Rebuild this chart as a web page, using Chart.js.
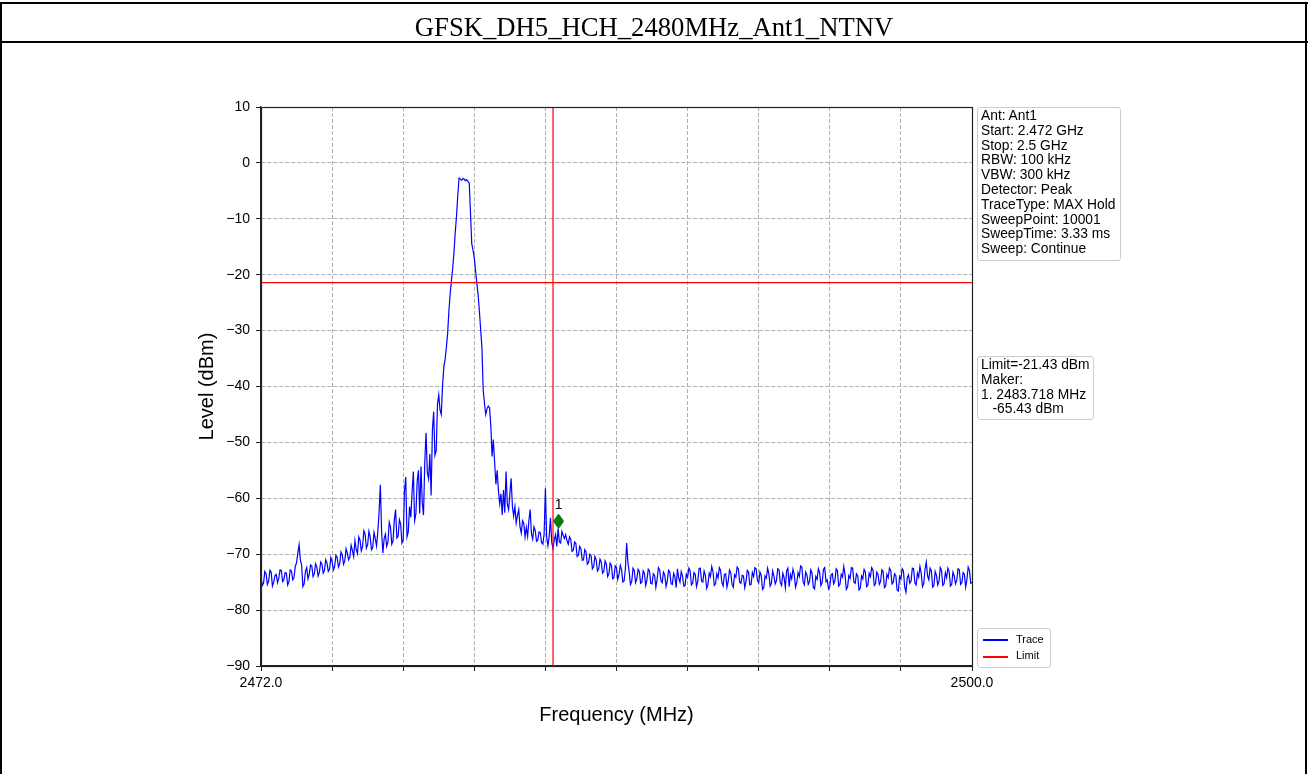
<!DOCTYPE html>
<html>
<head>
<meta charset="utf-8">
<script src="https://cdn.jsdelivr.net/npm/chart.js@4.4.0/dist/chart.umd.min.js"></script>
<style>
  html, body { margin: 0; padding: 0; background: #fff; }
  body { width: 1308px; height: 774px; position: relative; overflow: hidden; font-family: "Liberation Sans", Arial, sans-serif; }
  #chart { position: absolute; left: 0; top: 0; }
  .rule { position: absolute; background: #000; }
  #title { position: absolute; left: 0; top: 12px; width: 1308px; text-align: center; font-family: "Liberation Serif", "Times New Roman", serif; font-size: 20pt; line-height: 30px; color: #000; }
  .box { position: absolute; background: rgba(255,255,255,0.8); border: 1px solid #cccccc; border-radius: 3px; font-size: 13.8px; line-height: 14.8px; color: #000; white-space: pre; padding: 0 3px; box-sizing: border-box; }
  .leg { position: absolute; font-size: 11px; line-height: 13px; }
  .legline { position: absolute; height: 1.5px; width: 25px; }
</style>
</head>
<body>
<canvas id="chart" width="1308" height="774"></canvas>

<div class="rule" style="left:0;top:2px;width:1308px;height:2px"></div>
<div class="rule" style="left:0;top:41px;width:1308px;height:2px"></div>
<div class="rule" style="left:0;top:2px;width:2px;height:772px"></div>
<div class="rule" style="left:1305px;top:2px;width:2px;height:772px"></div>
<div id="title">GFSK_DH5_HCH_2480MHz_Ant1_NTNV</div>

<div class="box" style="left:977px;top:107px;width:144px;height:154px;padding-top:1px">Ant: Ant1
Start: 2.472 GHz
Stop: 2.5 GHz
RBW: 100 kHz
VBW: 300 kHz
Detector: Peak
TraceType: MAX Hold
SweepPoint: 10001
SweepTime: 3.33 ms
Sweep: Continue</div>

<div class="box" style="left:977px;top:356px;width:117px;height:64px;padding-top:1px">Limit=-21.43 dBm
Maker:
1. 2483.718 MHz
   -65.43 dBm</div>

<div class="box" id="legend" style="left:977px;top:628px;width:74px;height:40px"></div>

<script>
// trace: level (dBm) every 0.05 MHz from 2472.0 to 2500.0 MHz, one row per MHz
const freqStart = 2472;
const freqStep = 0.05;
const traceLevels = [
  -74.0,-75.6,-75.2,-73.1,-73.5,-75.4,-74.8,-72.9,-73.2,-75.7,-75.0,-73.8,-73.6,-75.1,-74.3,-72.8,-72.9,-74.9,-74.6,-73.3,
  -73.4,-75.5,-74.9,-72.8,-73.0,-74.6,-74.2,-72.2,-71.5,-69.8,-68.3,-71.0,-72.0,-75.8,-75.3,-73.1,-72.4,-74.4,-73.6,-71.9,
  -72.1,-74.0,-73.5,-71.7,-72.3,-73.9,-73.2,-71.4,-71.8,-73.4,-72.9,-71.0,-71.6,-73.1,-72.7,-70.6,-71.3,-72.8,-72.2,-70.2,
  -70.6,-72.3,-71.7,-69.6,-70.1,-71.8,-71.2,-69.0,-69.8,-71.0,-70.5,-68.4,-69.3,-70.4,-67.6,-69.2,-69.9,-66.9,-67.5,-69.4,
  -68.6,-65.8,-66.4,-68.9,-68.3,-65.9,-66.9,-69.2,-68.8,-66.1,-67.2,-68.5,-66.0,-62.5,-57.6,-66.0,-69.8,-67.2,-66.4,-68.6,
  -67.8,-64.3,-65.2,-68.2,-67.6,-63.9,-62.0,-67.1,-66.8,-63.8,-64.6,-68.0,-67.4,-58.8,-56.2,-66.9,-66.0,-61.5,-63.4,-58.9,
  -55.2,-64.0,-62.8,-57.0,-55.0,-62.7,-54.3,-60.8,-63.0,-53.5,-48.3,-55.4,-56.5,-52.1,-59.5,-47.8,-44.5,-52.3,-51.5,-43.2,
  -41.5,-44.2,-45.0,-39.8,-36.5,-35.2,-33.0,-30.5,-26.5,-23.4,-21.0,-18.8,-16.0,-12.4,-9.5,-5.8,-2.7,-2.9,-3.1,-2.8,
  -2.9,-3.2,-3.0,-3.3,-3.6,-8.9,-14.5,-15.6,-17.0,-19.3,-21.5,-23.6,-26.5,-29.8,-33.0,-40.6,-43.0,-45.0,-44.0,-43.5,
  -43.8,-47.0,-52.5,-49.5,-53.5,-57.5,-55.0,-58.6,-61.0,-59.2,-63.0,-58.5,-62.6,-55.2,-61.0,-62.0,-59.3,-56.4,-61.4,-63.2,
  -61.5,-64.4,-63.0,-62.0,-65.1,-66.2,-64.0,-64.5,-66.9,-65.2,-66.8,-64.0,-62.0,-66.3,-67.3,-65.1,-65.8,-67.7,-67.5,-66.0,
  -66.2,-67.9,-68.2,-66.4,-58.2,-67.0,-68.5,-66.8,-63.5,-67.9,-69.0,-67.4,-66.5,-68.6,-65.4,-67.8,-68.0,-65.9,-66.6,-67.2,
  -66.5,-67.6,-68.2,-66.9,-67.4,-69.5,-69.3,-67.8,-68.1,-70.4,-70.2,-68.6,-69.0,-71.1,-71.0,-69.2,-69.6,-71.8,-71.5,-70.0,
  -70.3,-72.6,-72.2,-70.4,-71.0,-73.0,-72.6,-70.9,-71.4,-73.4,-73.1,-71.2,-71.8,-74.0,-73.5,-71.6,-72.0,-74.4,-74.2,-72.1,
  -72.4,-74.5,-73.6,-72.0,-72.8,-75.0,-74.8,-72.6,-68.0,-71.5,-73.2,-75.4,-74.9,-72.5,-72.9,-75.1,-74.4,-72.7,-73.1,-75.2,
  -75.0,-73.0,-73.4,-75.6,-74.6,-72.7,-73.0,-75.2,-75.3,-73.5,-73.8,-75.9,-74.5,-72.4,-72.8,-74.7,-75.1,-73.2,-73.7,-75.8,
  -74.8,-72.9,-73.2,-75.3,-75.4,-73.4,-74.0,-76.0,-72.6,-74.3,-75.0,-73.1,-73.9,-75.7,-75.6,-73.6,-74.1,-72.5,-73.0,-75.5,
  -75.2,-73.3,-73.6,-75.8,-74.9,-72.6,-72.5,-74.8,-75.0,-73.0,-73.8,-76.1,-75.5,-73.4,-74.0,-72.2,-73.1,-75.6,-75.3,-73.5,
  -74.2,-72.4,-72.9,-75.1,-75.7,-73.6,-73.5,-75.9,-74.8,-72.8,-73.3,-75.4,-75.9,-73.7,-74.1,-72.3,-72.7,-75.0,-75.2,-73.8,
  -73.9,-76.0,-74.9,-72.9,-73.2,-75.5,-75.4,-73.3,-74.0,-72.4,-72.6,-74.7,-75.1,-73.2,-73.8,-76.3,-76.0,-73.9,-74.3,-72.5,
  -73.5,-75.7,-75.2,-73.0,-73.9,-75.3,-74.7,-72.6,-72.8,-75.1,-75.6,-73.4,-74.2,-76.0,-73.0,-72.5,-75.8,-73.6,-74.4,-72.7,
  -73.6,-75.9,-75.1,-73.3,-74.0,-72.1,-72.3,-75.0,-75.5,-73.2,-73.7,-75.4,-74.9,-72.8,-73.4,-75.9,-76.2,-74.0,-74.5,-72.6,
  -73.3,-75.6,-75.0,-72.7,-72.4,-74.9,-74.6,-76.2,-75.8,-73.7,-73.5,-75.3,-74.8,-72.6,-72.9,-75.7,-75.4,-73.6,-74.1,-72.2,
  -73.7,-76.3,-75.9,-73.8,-74.3,-72.4,-72.5,-75.0,-75.2,-73.5,-73.9,-76.4,-76.1,-73.9,-74.4,-72.7,-73.2,-75.8,-75.5,-73.4,
  -74.0,-72.4,-72.8,-75.6,-75.3,-73.2,-73.6,-75.4,-74.9,-72.8,-73.1,-76.0,-75.7,-73.6,-74.2,-72.5,-72.9,-75.3,-75.0,-73.5,
  -73.8,-76.4,-76.6,-74.0,-74.5,-72.6,-73.0,-75.9,-76.8,-74.2,-73.7,-75.2,-74.8,-72.5,-72.6,-75.1,-75.5,-73.4,-74.1,-72.2,
  -73.4,-75.8,-75.2,-72.7,-71.4,-73.9,-74.6,-72.5,-73.0,-75.9,-75.6,-73.1,-73.8,-75.5,-74.9,-72.4,-72.9,-75.6,-75.3,-73.3,
  -74.2,-72.5,-73.1,-75.7,-75.4,-73.2,-73.9,-75.3,-74.7,-72.6,-72.8,-75.4,-75.1,-73.3,-73.6,-75.9,-74.5,-72.3,-72.9,-75.2,
  -75.0
];
const limitLevel = -21.43;
const bandEdge = 2483.5;
const markerFreq = 2483.718;
const markerLevel = -64.1;   // where the diamond sits in the picture
const xTicks = [2472, 2474.8, 2477.6, 2480.4, 2483.2, 2486, 2488.8, 2491.6, 2494.4, 2497.2, 2500];
const xMin = 2472, xMax = 2500;
const yMin = -90, yMax = 10;

const traceColor = '#0000ff';
const limitColor = '#ff0000';

// thin green diamond like matplotlib's 'd'
const diamond = document.createElement('canvas');
diamond.width = 11; diamond.height = 15;
const dctx = diamond.getContext('2d');
dctx.fillStyle = '#008000';
dctx.strokeStyle = '#006400';
dctx.beginPath();
dctx.moveTo(5.5, 0.5); dctx.lineTo(10.5, 7.5); dctx.lineTo(5.5, 14.5); dctx.lineTo(0.5, 7.5);
dctx.closePath(); dctx.fill(); dctx.stroke();

// legend (html, same colours as the datasets)
document.getElementById('legend').innerHTML =
  '<div class="legline" style="left:5px;top:10px;background:' + traceColor + '"></div>' +
  '<div class="leg" style="left:38px;top:4px">Trace</div>' +
  '<div class="legline" style="left:5px;top:27px;background:' + limitColor + '"></div>' +
  '<div class="leg" style="left:38px;top:20px">Limit</div>';

const framePlugin = {
  id: 'frame',
  afterDatasetsDraw(chart) {
    const {ctx, chartArea: a} = chart;
    const xs = chart.scales.x, ys = chart.scales.y;
    // marker number
    ctx.save();
    ctx.fillStyle = '#000';
    ctx.font = '14px "Liberation Sans", Arial, sans-serif';
    ctx.textAlign = 'center';
    ctx.textBaseline = 'middle';
    ctx.fillText('1', xs.getPixelForValue(markerFreq), ys.getPixelForValue(markerLevel) - 16);
    // four spines
    ctx.strokeStyle = '#222';
    ctx.lineWidth = 1.2;
    ctx.strokeRect(Math.round(a.left) + 0.5, Math.round(a.top) + 0.5, Math.round(a.right - a.left), Math.round(a.bottom - a.top));
    ctx.restore();
  }
};

const tickFont = {family: '"Liberation Sans", Arial, sans-serif', size: 14};
const titleFont = {family: '"Liberation Sans", Arial, sans-serif', size: 20};

new Chart(document.getElementById('chart').getContext('2d'), {
  type: 'line',
  data: {
    datasets: [{
      label: 'Marker',
      data: [{x: markerFreq, y: markerLevel}],
      showLine: false,
      pointStyle: diamond,
      pointRadius: 6,
    }, {
      label: 'Band edge',
      data: [{x: bandEdge, y: yMax}, {x: bandEdge, y: yMin}],
      borderColor: limitColor,
      borderWidth: 1.2,
      pointRadius: 0,
    }, {
      label: 'Limit',
      data: [{x: xMin, y: limitLevel}, {x: xMax, y: limitLevel}],
      borderColor: limitColor,
      borderWidth: 1.2,
      pointRadius: 0,
    }, {
      label: 'Trace',
      data: traceLevels.map((v, i) => ({x: freqStart + i * freqStep, y: v})),
      borderColor: traceColor,
      borderWidth: 1.2,
      pointRadius: 0,
      tension: 0,
    }],
  },
  options: {
    responsive: false,
    animation: false,
    devicePixelRatio: 1,
    layout: {padding: {left: 0, top: 107, right: 336, bottom: 0}},
    plugins: {legend: {display: false}, tooltip: {enabled: false}},
    scales: {
      x: {
        type: 'linear',
        min: xMin,
        max: xMax,
        afterBuildTicks(scale) { scale.ticks = xTicks.map(v => ({value: v})); },
        afterFit(scale) { scale.height = 108; },
        ticks: {
          autoSkip: false,
          maxRotation: 0,
          color: '#000',
          font: tickFont,
          padding: 4,
          callback: (v, i, t) => (i === 0 || i === t.length - 1) ? Number(v).toFixed(1) : '',
        },
        grid: {color: '#b0b0b0', lineWidth: 1, tickLength: 5, tickColor: '#222', tickWidth: 1},
        border: {color: '#222', width: 1.2, dash: [4, 2]},
        title: {display: true, text: 'Frequency (MHz)', color: '#000', font: titleFont, padding: {top: 0, bottom: 47}},
      },
      y: {
        min: yMin,
        max: yMax,
        afterFit(scale) { scale.width = 261; },
        ticks: {
          stepSize: 10,
          color: '#000',
          font: tickFont,
          padding: 6,
          callback: v => String(v).replace('-', '\u2212'),
        },
        grid: {color: '#b0b0b0', lineWidth: 1, tickLength: 5, tickColor: '#222', tickWidth: 1},
        border: {color: '#222', width: 1.2, dash: [4, 2]},
        title: {display: true, text: 'Level (dBm)', color: '#000', font: titleFont, padding: {top: 195, bottom: 0}},
      },
    },
  },
  plugins: [framePlugin],
});
</script>
</body>
</html>
